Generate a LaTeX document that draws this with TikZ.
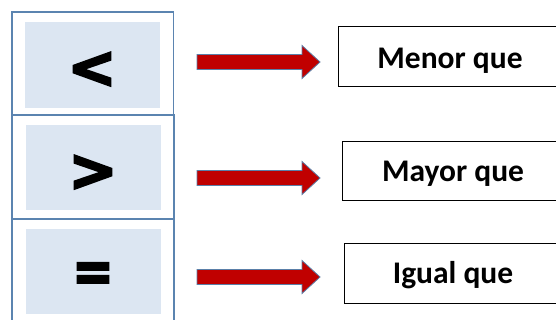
\documentclass[tikz,border=0pt]{standalone}
\usepackage{fontspec}
\setmainfont{Carlito}
\newfontfamily\symfont[FakeBold=4]{DejaVu Sans}
\definecolor{framblue}{HTML}{5B84B0}
\definecolor{cellfill}{HTML}{DCE6F2}
\definecolor{arrred}{HTML}{C00000}
\definecolor{arredge}{HTML}{5A7FA8}
\tikzset{
  frame/.style={draw=framblue, line width=1.5pt},
  cell/.style={fill=cellfill},
  sym/.style={font=\symfont\bfseries\fontsize{58}{58}\selectfont, inner sep=0pt},
  label/.style={draw=black, line width=1pt, fill=white},
  labtext/.style={font=\bfseries\fontsize{31.5}{32}\selectfont, inner sep=0pt, anchor=base},
  blockarrow/.style={fill=arrred, draw=arredge, line width=0.8pt, line join=miter}
}
\begin{document}
\begin{tikzpicture}[x=1pt,y=-1pt]
\useasboundingbox (0,0) rectangle (556,320);
\clip (0,0) rectangle (556,320);
\fill[white] (0,0) rectangle (556,320);
% left column frames
\draw[frame] (12,12) rectangle (173.5,115);
\draw[frame] (12,115) rectangle (174,219);
\draw[frame] (12,219) rectangle (174,330);
% inner cells
\fill[cell] (25,22) rectangle (160,108);
\fill[cell] (26,125) rectangle (161,210);
\fill[cell] (26,229) rectangle (161,314);
% symbols
\node[sym] (lt) at (92,70) {<};
\node[sym] (gt) at (93,173) {>};
\node[sym, xscale=0.85] (eq) at (93,277) {=};
% block arrows
\foreach \cy/\nm in {62/a1,178/a2,277/a3}{
  \draw[blockarrow] (197,\cy-7.5) -- (302,\cy-7.5) -- (302,\cy-16.5) -- (320,\cy)
    -- (302,\cy+16.5) -- (302,\cy+7.5) -- (197,\cy+7.5) -- cycle;
}
% label boxes
\draw[label] (338,27) rectangle (570,87);
\draw[label] (342,142) rectangle (570,201);
\draw[label] (344,243) rectangle (570,303);
\node[labtext] (menor) at (450,69) {Menor que};
\node[labtext] (mayor) at (453,182) {Mayor que};
\node[labtext] (igual) at (453,283) {Igual que};
\end{tikzpicture}
\end{document}
